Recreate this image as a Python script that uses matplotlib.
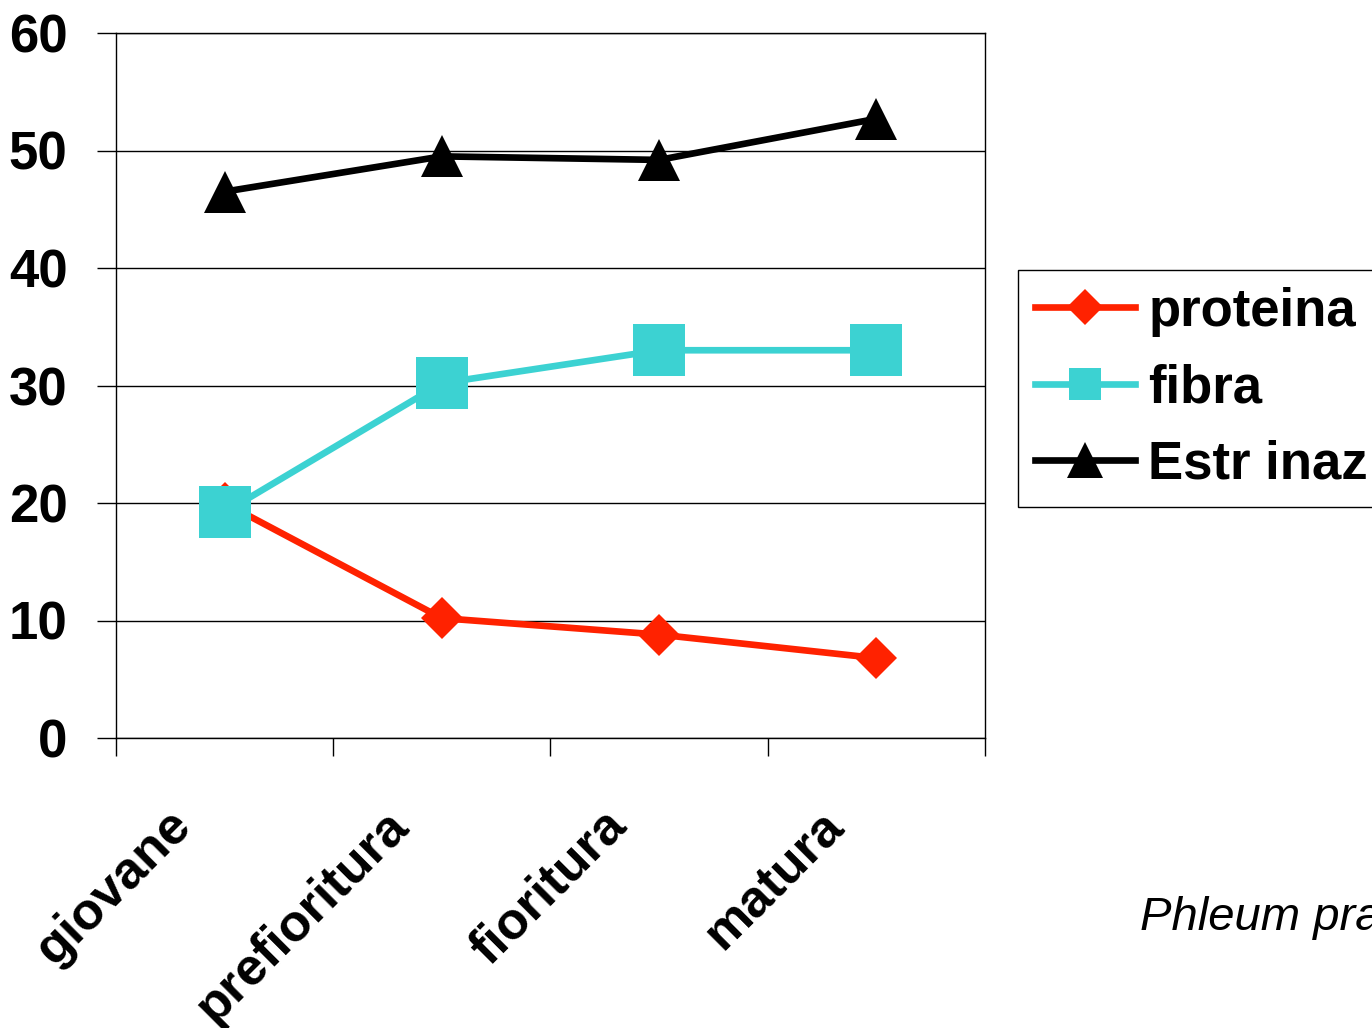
import numpy as np
import matplotlib.pyplot as plt
import matplotlib.transforms as mtransforms

# Dati
stadi = ['giovane', 'prefioritura', 'fioritura', 'matura']
proteina = [20.0, 10.2, 8.8, 6.8]
fibra = [19.2, 30.2, 33.0, 33.0]
estr_inaz = [46.5, 49.5, 49.2, 52.7]
y_ticks = [0, 10, 20, 30, 40, 50, 60]

plt.rcParams['font.family'] = ['Liberation Sans', 'DejaVu Sans']

fig = plt.figure(figsize=(13.72, 10.28), dpi=100)
ax = fig.add_axes([116 / 1372, 1 - 738 / 1028, (985 - 116) / 1372, (738 - 33) / 1028])

x = np.arange(len(stadi))
ax.plot(x, proteina, color='#FF2200', lw=4.8, marker='D', ms=21, mew=0, label='proteina', zorder=3)
ax.plot(x, fibra, color='#3CD2D2', lw=4.8, marker='s', ms=37, mew=0, label='fibra', zorder=4)
ax.plot(x, estr_inaz, color='black', lw=4.8, marker='^', ms=30, mew=0, label='Estr inaz', zorder=5)

ax.set_xlim(-0.5, len(stadi) - 0.5)
ax.set_ylim(0, 60)
ax.set_yticks(y_ticks)
ax.set_yticklabels([str(v) for v in y_ticks], fontsize=38, fontweight='bold')
ax.grid(axis='y', color='black', lw=1)
ax.set_axisbelow(True)
ax.tick_params(axis='y', length=14, width=1, pad=21)

# tacche tra le categorie, etichette al centro
ax.set_xticks(np.arange(-0.5, len(stadi), 1.0))
ax.set_xticklabels([])
ax.tick_params(axis='x', which='major', length=13, width=1)
ax.set_xticks(x, minor=True)
ax.set_xticklabels(stadi, minor=True, rotation=45, ha='right', va='top',
                   rotation_mode='anchor', fontsize=37.5, fontweight='bold')
ax.tick_params(axis='x', which='minor', length=0, pad=45)
offset = mtransforms.ScaledTranslation(-58 / 100, 0, fig.dpi_scale_trans)
for lab in ax.get_xticklabels(minor=True):
    lab.set_transform(lab.get_transform() + offset)

for s in ax.spines.values():
    s.set_linewidth(1)

leg = fig.legend(loc='upper left', bbox_to_anchor=(1018 / 1372, 1 - 270 / 1028),
                 prop={'size': 38, 'weight': 'bold'}, frameon=True, fancybox=False,
                 edgecolor='black', framealpha=1, handlelength=1.9, handletextpad=0.25,
                 labelspacing=0.5, borderpad=0.32, borderaxespad=0)
leg.get_frame().set_linewidth(1)
for h, ms in zip(leg.legend_handles, [18, 23, 26]):
    h.set_markersize(ms)

fig.text(1140 / 1372, 1 - 930 / 1028, 'Phleum pratense', fontsize=34, style='italic')

plt.savefig('out.png', dpi=100)
